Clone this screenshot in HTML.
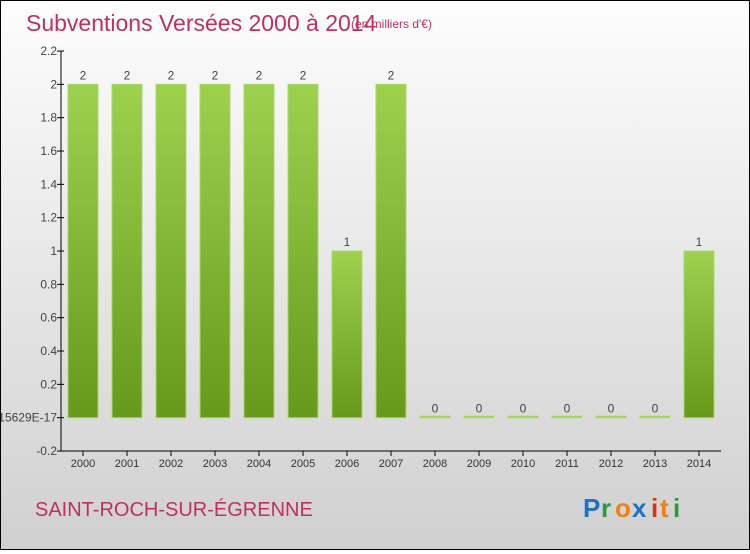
<!DOCTYPE html>
<html><head><meta charset="utf-8"><style>
body{margin:0;width:750px;height:550px;overflow:hidden;font-family:"Liberation Sans",sans-serif}
#wrap{position:relative;width:748px;height:548px;border:1px solid #000;background:linear-gradient(#fdfdfd,#d0d0d0)}
</style></head><body>
<div id="wrap">
<svg id="svg" width="748" height="548" xmlns="http://www.w3.org/2000/svg">
<defs><linearGradient id="g" x1="0" y1="0" x2="0" y2="1"><stop offset="0" stop-color="#9dd14e"/><stop offset="1" stop-color="#66991a"/></linearGradient></defs>
<text x="25" y="30" font-size="23" fill="#c0305e">Subventions Versées 2000 à 2014</text>
<text x="350" y="27" font-size="12" fill="#c0305e">(en milliers d'€)</text>
<text x="34" y="515" font-size="20" fill="#c0305e">SAINT-ROCH-SUR-ÉGRENNE</text>
<g font-size="26" font-weight="bold">
<text x="582" y="516" fill="#1a73c8">P</text><text x="600" y="516" fill="#2a9a3a">r</text><text x="614" y="516" fill="#f08010">o</text><text x="631" y="516" fill="#1a73c8">x</text><text x="650" y="516" fill="#e03010">i</text><text x="659" y="516" fill="#f08010">t</text><text x="672" y="516" fill="#2a9a3a">i</text></g>
<g id="plot"></g>
</svg></div>
<script>
const categories=["2000","2001","2002","2003","2004","2005","2006","2007","2008","2009","2010","2011","2012","2013","2014"];
const values=[2,2,2,2,2,2,1,2,0,0,0,0,0,0,1];
const tickValues=[-0.2,0,0.2,0.4,0.6,0.8,1,1.2,1.4,1.6,1.8,2,2.2];
const tickLabels=["-0.2","5.5115629E-17","0.2","0.4","0.6","0.8","1","1.2","1.4","1.6","1.8","2","2.2"];
const NS="http://www.w3.org/2000/svg",g=document.getElementById("plot");
const y=v=>416.7-(v*166.67);
const x=i=>82+i*44;
function mk(t,a,txt){const e=document.createElementNS(NS,t);for(const k in a)e.setAttribute(k,a[k]);if(txt!=null)e.textContent=txt;g.appendChild(e);return e;}
let ax=mk("line",{x1:60,y1:50,x2:60,y2:450,stroke:"#000"});


let bx=mk("line",{x1:60,y1:450,x2:720,y2:450,stroke:"#000"});


tickValues.forEach((v,i)=>{
 mk("line",{x1:56,y1:y(v),x2:63,y2:y(v),stroke:"#000"});
 let t=mk("text",{x:56,y:y(v)+4,"font-size":12,fill:"#444","text-anchor":"end"},tickLabels[i]);
 
 
});
categories.forEach((c,i)=>{
 mk("line",{x1:x(i),y1:450,x2:x(i),y2:455,stroke:"#000"});
 let t=mk("text",{x:x(i),y:466,"font-size":11,fill:"#333","text-anchor":"middle"},c);
 
 
 const v=values[i],top=y(v),h=Math.max(y(0)-top,1.5);
 let b=mk("rect",{x:x(i)-15,y:Math.min(top,y(0)-1.5),width:30,height:h,fill:v>0?"url(#g)":"#9dd14e",stroke:"#a8d86a","stroke-width":1});
 
 
 let l=mk("text",{x:x(i),y:Math.min(top,y(0))-5,"font-size":12,fill:"#444","text-anchor":"middle"},String(v));
 
 
});
</script>
</body></html>
